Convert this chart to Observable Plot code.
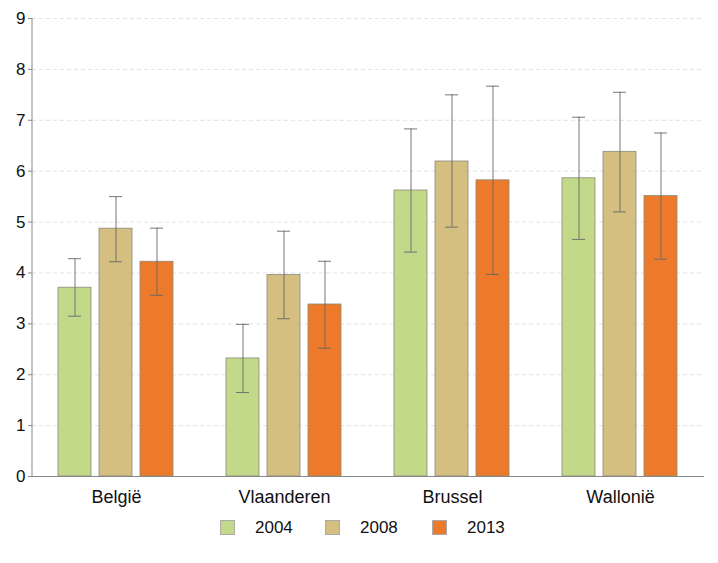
<!DOCTYPE html>
<html>
<head>
<meta charset="utf-8">
<script src="https://cdn.jsdelivr.net/npm/d3@7"></script>
<script src="https://cdn.jsdelivr.net/npm/@observablehq/plot@0.6"></script>
<style>
body { margin: 0; background: #fff; font-family: "Liberation Sans", Arial, sans-serif; }
#wrap { width: 718px; }
#legend { position: relative; width: 718px; height: 45px; font-size: 17px; color: #111; }
.leg { position: absolute; top: 10px; height: 15px; display: flex; align-items: center; }
.sw { width: 15px; height: 15px; box-sizing: border-box; border: 1px solid #aaa; margin-right: 20px; flex: none; }
</style>
</head>
<body>
<div id="wrap"></div>
<div id="legend"></div>
<script>
const categories = ["België", "Vlaanderen", "Brussel", "Wallonië"];
const years = ["2004", "2008", "2013"];
const colors = ["#c3d98a", "#d4bf80", "#ec7a2a"];
const values = [[3.71, 4.87, 4.22], [2.32, 3.96, 3.38], [5.62, 6.19, 5.82], [5.86, 6.38, 5.51]];
const lower = [[3.15, 4.22, 3.56], [1.65, 3.10, 2.52], [4.41, 4.90, 3.97], [4.66, 5.20, 4.27]];
const upper = [[4.28, 5.50, 4.88], [2.99, 4.82, 4.23], [6.83, 7.50, 7.67], [7.06, 7.55, 6.75]];
const yTicks = [0, 1, 2, 3, 4, 5, 6, 7, 8, 9];

const rows = [];
categories.forEach((c, i) => years.forEach((y, j) => rows.push({cat: c, year: y, value: values[i][j], lo: lower[i][j], hi: upper[i][j]})));

const chart = Plot.plot({
  width: 718, height: 510,
  marginLeft: 32, marginRight: 14, marginTop: 18, marginBottom: 34,
  style: {fontFamily: "'Liberation Sans', Arial, sans-serif", color: "#111", background: "#fff"},
  fx: {domain: categories, padding: 0, label: null},
  x: {domain: years, paddingInner: 0.19, paddingOuter: 0.6, axis: null},
  y: {domain: [0, 9], label: null},
  color: {domain: years, range: colors},
  marks: [
    Plot.ruleY(yTicks.slice(1), {stroke: "#e2e2e2", strokeDasharray: "4,3"}),
    Plot.barY(rows, {fx: "cat", x: "year", y: "value", fill: "year", stroke: "#8a8a7a", strokeWidth: 0.8}),
    Plot.ruleX(rows, {fx: "cat", x: "year", y1: "lo", y2: "hi", stroke: "#666", strokeWidth: 0.9}),
    Plot.tickY(rows, {fx: "cat", x: "year", y: "lo", stroke: "#666", strokeWidth: 0.9, insetLeft: 10, insetRight: 10}),
    Plot.tickY(rows, {fx: "cat", x: "year", y: "hi", stroke: "#666", strokeWidth: 0.9, insetLeft: 10, insetRight: 10}),
    Plot.ruleY([0], {stroke: "#888"}),
    Plot.axisY({ticks: yTicks, tickSize: 4, tickPadding: 3, fontSize: 17, stroke: "#888", label: null}),
    Plot.axisFx({anchor: "bottom", tickSize: 0, tickPadding: 14, fontSize: 18, label: null, style: {letterSpacing: "-0.3px"}})
  ]
});
document.getElementById("wrap").appendChild(chart);

// vertical y-axis line drawn through the y scale
const ys = chart.scale("y");
d3.select(chart).append("line")
  .attr("x1", 32).attr("x2", 32)
  .attr("y1", ys.apply(9)).attr("y2", ys.apply(0))
  .attr("stroke", "#888");

const legX = [220, 325, 432];
const legend = document.getElementById("legend");
years.forEach((y, i) => {
  const d = document.createElement("div");
  d.className = "leg";
  d.style.left = legX[i] + "px";
  d.innerHTML = `<div class="sw" style="background:${colors[i]}"></div><span>${y}</span>`;
  legend.appendChild(d);
});
</script>
</body>
</html>
